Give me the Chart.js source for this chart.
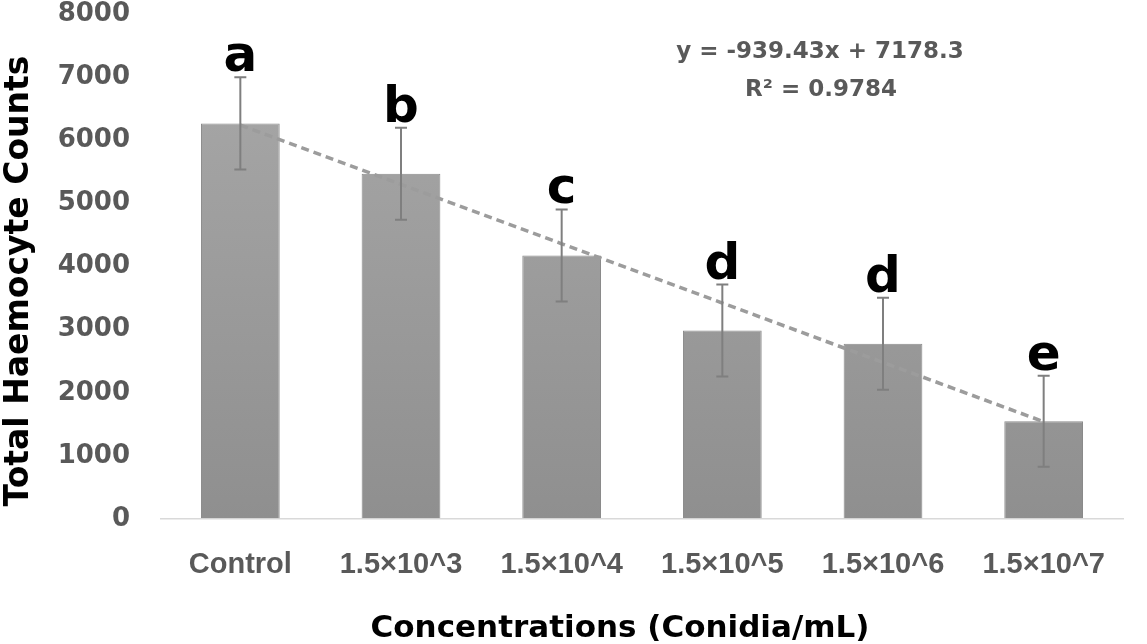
<!DOCTYPE html>
<html>
<head>
<meta charset="utf-8">
<script src="https://cdn.jsdelivr.net/npm/chart.js@4"></script>
<style>
  body { margin: 0; background: #fff; }
  #wrap { width: 1147px; height: 644px; }
</style>
</head>
<body>
<div id="wrap"><canvas id="thcChart"></canvas></div>
<script>
// data
const concentrations = ['Control', '1.5×10^3', '1.5×10^4', '1.5×10^5', '1.5×10^6', '1.5×10^7'];
const thcMeans = [6267, 5471, 4175, 2986, 2776, 1548];
const thcErrors = [732, 729, 729, 727, 727, 722];
const groupLetters = ['a', 'b', 'c', 'd', 'd', 'e'];
const trendValues = [6239, 5299, 4360, 3421, 2481, 1542];
const yTicks = [0, 1000, 2000, 3000, 4000, 5000, 6000, 7000, 8000];

const FONT = '"DejaVu Sans", Arial, sans-serif';
const FONT_X = '"Liberation Sans", Arial, sans-serif';
const GREY_TEXT = '#595959';

// error bars, letters, equation and axis titles
const annotations = {
    id: 'annotations',
    afterDatasetsDraw(chart) {
        const ctx = chart.ctx;
        const x = chart.scales.x;
        const y = chart.scales.y;
        ctx.save();

        // error bars
        ctx.strokeStyle = '#7f7f7f';
        ctx.lineWidth = 2;
        thcMeans.forEach((v, i) => {
            const cx = x.getPixelForValue(i);
            const top = y.getPixelForValue(v + thcErrors[i]);
            const bot = y.getPixelForValue(v - thcErrors[i]);
            ctx.beginPath();
            ctx.moveTo(cx, top); ctx.lineTo(cx, bot);
            ctx.moveTo(cx - 6, top); ctx.lineTo(cx + 6, top);
            ctx.moveTo(cx - 6, bot); ctx.lineTo(cx + 6, bot);
            ctx.stroke();
        });

        // significance letters
        ctx.fillStyle = '#000';
        ctx.font = 'bold 50px ' + FONT;
        ctx.textAlign = 'center';
        ctx.textBaseline = 'alphabetic';
        groupLetters.forEach((l, i) => {
            const cx = x.getPixelForValue(i);
            const top = y.getPixelForValue(thcMeans[i] + thcErrors[i]);
            ctx.fillText(l, cx, top - 6);
        });

        // regression equation
        ctx.fillStyle = GREY_TEXT;
        ctx.font = 'bold 23px ' + FONT;
        ctx.textBaseline = 'middle';
        ctx.fillText('y = -939.43x + 7178.3', 820, 52);
        ctx.fillText('R² = 0.9784', 821, 90);

        // axis titles
        ctx.fillStyle = '#000';
        ctx.font = 'bold 31px ' + FONT;
        ctx.textBaseline = 'alphabetic';
        ctx.fillText('Concentrations (Conidia/mL)', 620, 637);
        ctx.translate(28, 281);
        ctx.rotate(-Math.PI / 2);
        ctx.font = 'bold 33px ' + FONT;
        ctx.fillText('Total Haemocyte Counts', 0, 0);

        ctx.restore();
    }
};

function barGradient(context) {
    const chart = context.chart;
    const area = chart.chartArea;
    if (!area) return '#999';
    const y = chart.scales.y;
    const g = chart.ctx.createLinearGradient(0, y.getPixelForValue(6300), 0, y.getPixelForValue(0));
    g.addColorStop(0, '#a4a4a4');
    g.addColorStop(1, '#8f8f8f');
    return g;
}

const ctx = document.getElementById('thcChart').getContext('2d');
new Chart(ctx, {
    type: 'bar',
    data: {
        labels: concentrations,
        datasets: [{
            type: 'line',
            label: 'Linear trend',
            data: trendValues,
            borderColor: '#9c9c9c',
            borderWidth: 3.5,
            borderDash: [8, 5],
            pointRadius: 0,
            fill: false,
            order: 0
        }, {
            label: 'THC',
            data: thcMeans,
            backgroundColor: barGradient,
            borderColor: '#8a8a8a',
            borderWidth: 1,
            barPercentage: 0.49,
            categoryPercentage: 1,
            order: 1
        }]
    },
    options: {
        responsive: true,
        maintainAspectRatio: false,
        animation: false,
        layout: { padding: { top: 14, right: 23, left: 0, bottom: 0 } },
        plugins: { legend: { display: false }, tooltip: { enabled: false } },
        scales: {
            x: {
                grid: { display: false },
                border: { display: false },
                ticks: {
                    color: GREY_TEXT,
                    font: { family: FONT_X, size: 29, weight: 'bold', lineHeight: 1 },
                    padding: 23,
                    maxRotation: 0
                },
                afterFit(s) { s.height = 125; }
            },
            y: {
                min: 0,
                max: 8000,
                afterBuildTicks(s) { s.ticks = yTicks.map(v => ({ value: v })); },
                grid: {
                    drawTicks: true,
                    tickLength: 30,
                    tickColor: 'rgba(0,0,0,0)',
                    color: c => c.tick && c.tick.value === 0 ? '#d9d9d9' : 'rgba(0,0,0,0)',
                    lineWidth: 1.5
                },
                border: { display: false },
                ticks: {
                    color: GREY_TEXT,
                    font: { family: FONT, size: 26, weight: 'bold', lineHeight: 1 },
                    padding: 0,
                    callback: v => String(v)
                },
                afterFit(s) { s.width = 160; }
            }
        }
    },
    plugins: [annotations]
});
</script>
</body>
</html>
